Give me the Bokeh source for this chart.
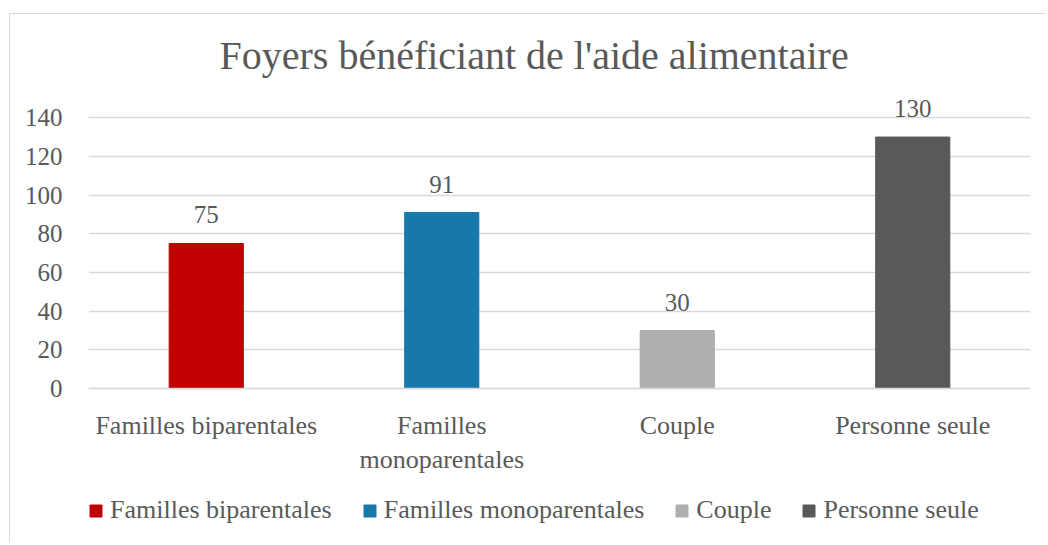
from bokeh.plotting import figure
from bokeh.models import (ColumnDataSource, FactorRange, Range1d, LabelSet, Legend,
                          LegendItem, FixedTicker)
from bokeh.embed import file_html
from bokeh.resources import INLINE

title_text = "Foyers bénéficiant de l'aide alimentaire"
categories = ["Familles biparentales", "Familles monoparentales", "Couple", "Personne seule"]
tick_labels = ["Familles biparentales", "Familles\nmonoparentales", "Couple", "Personne seule"]
values = [75, 91, 30, 130]
colors = ["#C00000", "#1878AA", "#AFAFAF", "#595959"]
y_ticks = [0, 20, 40, 60, 80, 100, 120, 140]

FONT = "Liberation Serif"
TXT = "#595959"
GRID = "#D9D9D9"

source = ColumnDataSource(dict(
    x=tick_labels,
    value=values,
    color=colors,
    label=[str(v) for v in values],
))

# the frame extends below zero so the legend (drawn inside the frame) has room;
# the category axis is pinned at y = 0
p = figure(width=1036, height=529,
           x_range=FactorRange(factors=tick_labels, range_padding=0),
           y_range=Range1d(-77, 152),
           output_backend="svg", toolbar_location=None,
           min_border_left=78, min_border_right=16,
           min_border_top=80, min_border_bottom=6)

p.styles = {"margin-top": "13px", "margin-left": "9px",
            "border-top": "1px solid #D9D9D9", "border-left": "1px solid #D9D9D9"}

p.outline_line_color = None
p.background_fill_color = "white"
p.border_fill_color = "white"

# title
p.title.text = title_text
p.title.align = "left"
p.title.offset = 131
p.title.standoff = 33
p.title.text_font = FONT
p.title.text_font_size = "40px"
p.title.text_font_style = "normal"
p.title.text_color = TXT

# bars
r = p.vbar(x="x", top="value", width=0.315, color="color", source=source)

labels = LabelSet(x="x", y="value", text="label", source=source, y_offset=20,
                  text_align="center", text_baseline="bottom",
                  text_font=FONT, text_font_size="25px", text_color=TXT)
p.add_layout(labels)

# axes
p.yaxis.ticker = FixedTicker(ticks=y_ticks)
p.yaxis.axis_line_color = None
p.yaxis.major_tick_line_color = None
p.yaxis.minor_tick_line_color = None
p.yaxis.major_tick_out = 0
p.yaxis.major_label_standoff = 26
p.yaxis.major_label_text_font = FONT
p.yaxis.major_label_text_font_size = "25px"
p.yaxis.major_label_text_color = TXT

p.xaxis.fixed_location = 0
p.xaxis.axis_line_color = GRID
p.xaxis.axis_line_width = 1.5
p.xaxis.major_tick_line_color = None
p.xaxis.minor_tick_line_color = None
p.xaxis.major_tick_out = 0
p.xaxis.major_label_standoff = 22
p.xaxis.major_label_text_font = FONT
p.xaxis.major_label_text_font_size = "26px"
p.xaxis.major_label_text_color = TXT

p.xgrid.grid_line_color = None
p.ygrid.grid_line_color = GRID
p.ygrid.grid_line_width = 1.5

# legend
items = [LegendItem(label=c, renderers=[r], index=i) for i, c in enumerate(categories)]
legend = Legend(items=items, orientation="horizontal", location=(0, 12),
                label_text_font=FONT, label_text_font_size="26px", label_text_color=TXT,
                glyph_width=15, glyph_height=15, label_standoff=7, spacing=30,
                padding=3, margin=0, border_line_color=None, background_fill_alpha=0)
p.add_layout(legend)

open("out.html", "w").write(file_html(p, INLINE))
